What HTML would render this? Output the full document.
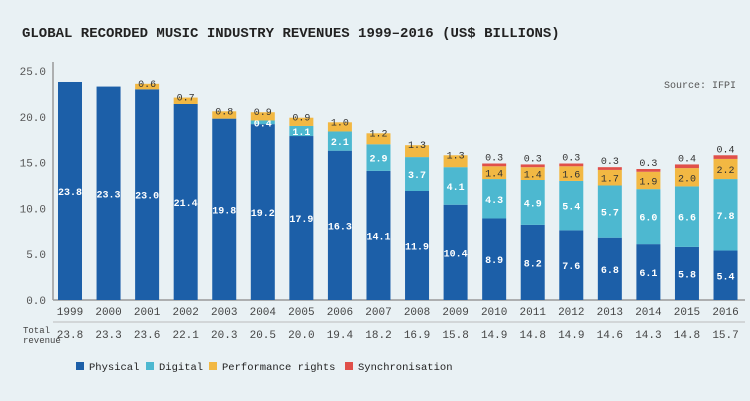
<!DOCTYPE html>
<html><head><meta charset="utf-8"><style>
body{margin:0;background:#e9f1f4;}
svg{display:block;font-family:"Liberation Mono",monospace;}
</style></head><body>
<svg id="c" width="750" height="401">
<text x="22" y="37" font-size="14" font-weight="bold" fill="#222">GLOBAL RECORDED MUSIC INDUSTRY REVENUES 1999–2016 (US$ BILLIONS)</text>
<text x="736" y="88" font-size="10" fill="#555" text-anchor="end">Source: IFPI</text>
<g id="g"></g>
</svg>
<script>
const years=[1999,2000,2001,2002,2003,2004,2005,2006,2007,2008,2009,2010,2011,2012,2013,2014,2015,2016];
const physical=[23.8,23.3,23.0,21.4,19.8,19.2,17.9,16.3,14.1,11.9,10.4,8.9,8.2,7.6,6.8,6.1,5.8,5.4];
const digital=[0,0,0,0,0,0.4,1.1,2.1,2.9,3.7,4.1,4.3,4.9,5.4,5.7,6.0,6.6,7.8];
const performance=[0,0,0.6,0.7,0.8,0.9,0.9,1.0,1.2,1.3,1.3,1.4,1.4,1.6,1.7,1.9,2.0,2.2];
const sync=[0,0,0,0,0,0,0,0,0,0,0,0.3,0.3,0.3,0.3,0.3,0.4,0.4];
const totals=["23.8","23.3","23.6","22.1","20.3","20.5","20.0","19.4","18.2","16.9","15.8","14.9","14.8","14.9","14.6","14.3","14.8","15.7"];
const yTicks=[0,5,10,15,20,25];
const NS="http://www.w3.org/2000/svg";
const g=document.getElementById('g');
const y=v=>300-v*9.16;
const x=i=>70+i*38.56;
const bw=24;
function el(t,a,txt){const e=document.createElementNS(NS,t);for(const k in a)e.setAttribute(k,a[k]);if(txt!==undefined)e.textContent=txt;g.appendChild(e);return e;}
yTicks.forEach(t=>{
 const e=el('text',{x:46,y:y(t)+4,'font-size':11,fill:'#555','text-anchor':'end'},t.toFixed(1));
 
 
});
const ax=el('line',{x1:53,y1:62,x2:53,y2:300,stroke:'#999','stroke-width':1.5});


const bx=el('line',{x1:53,y1:300,x2:745,y2:300,stroke:'#999','stroke-width':1.5});


const sp=el('line',{x1:53,y1:322,x2:745,y2:322,stroke:'#bbb','stroke-width':1});


const series=[[physical,'#1c5fa8','physical'],[digital,'#4db8d0','digital'],[performance,'#f2b843','performance'],[sync,'#e0504a','sync']];
years.forEach((yr,i)=>{
 let base=0;
 series.forEach(([arr,col,nm],si)=>{
  const v=arr[i]; if(!v)return;
  const r=el('rect',{x:x(i)-bw/2,y:y(base+v),width:bw,height:y(base)-y(base+v),fill:col});
  
  
  let ty,fc;
  if(si<2){ty=(y(base)+y(base+v))/2+4;fc='#fff';}
  else if(si==2){ty=(sync[i]?(y(base)+y(base+v))/2+4:y(base+v)+3);fc='#333';}
  else{ty=y(base+v)-3;fc='#333';}
  const t=el('text',{x:x(i),y:ty,'font-size':10,fill:fc,'text-anchor':'middle','font-weight':si<2?'bold':'normal'},v.toFixed(1));
  
  
  base+=v;
 });
 const yl=el('text',{x:x(i),y:315,'font-size':11,fill:'#444','text-anchor':'middle'},yr);
 
 
 const tl=el('text',{x:x(i),y:338,'font-size':11,fill:'#444','text-anchor':'middle'},totals[i]);
 
 
});
const tr=el('text',{x:23,y:333,'font-size':9,fill:'#444'},'Total');


const tr2=el('text',{x:23,y:343,'font-size':9,fill:'#444'},'revenue');


const leg=[['Physical','#1c5fa8',76],['Digital','#4db8d0',146],['Performance rights','#f2b843',209],['Synchronisation','#e0504a',345]];
leg.forEach(([n,c,lx])=>{
 const s=el('rect',{x:lx,y:362,width:8,height:8,fill:c});
 
 
 const t=el('text',{x:lx+13,y:370,'font-size':10.5,fill:'#222'},n);
 
 
});
</script>
</body></html>
